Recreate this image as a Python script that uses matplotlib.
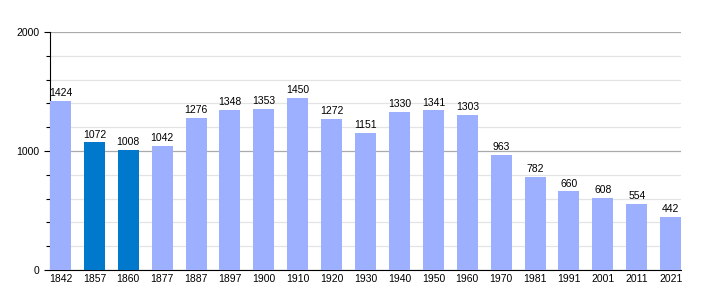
import numpy as np
import matplotlib.pyplot as plt
from matplotlib.ticker import MultipleLocator

annees = ['1842', '1857', '1860', '1877', '1887', '1897', '1900', '1910', '1920', '1930',
          '1940', '1950', '1960', '1970', '1981', '1991', '2001', '2011', '2021']
population = [1424, 1072, 1008, 1042, 1276, 1348, 1353, 1450, 1272, 1151,
              1330, 1341, 1303, 963, 782, 660, 608, 554, 442]
# annees mises en evidence (bleu fonce)
surlignees = ['1857', '1860']

plt.rcParams['font.family'] = ['Liberation Sans', 'DejaVu Sans']

fig = plt.figure(figsize=(7.1, 3.0), dpi=100)
ax = fig.add_axes([0.0704, 0.1, 0.889, 0.793])

x = np.arange(len(annees))
couleurs = ['#0079cc' if a in surlignees else '#9dafff' for a in annees]
ax.bar(x, population, width=0.62, color=couleurs, zorder=3)

for xi, v in zip(x, population):
    ax.text(xi, v + 25, str(v), ha='center', va='bottom', fontsize=7.5, zorder=4)

ax.set_xlim(-0.31, len(annees) - 1 + 0.31)
ax.set_ylim(0, 2000)
ax.set_xticks(x)
ax.set_xticklabels(annees, fontsize=7.5)
ax.yaxis.set_major_locator(MultipleLocator(1000))
ax.yaxis.set_minor_locator(MultipleLocator(200))
ax.tick_params(axis='y', which='major', labelsize=7.5, length=4, width=0.8)
ax.tick_params(axis='y', which='minor', length=3, width=0.8)
ax.tick_params(axis='x', length=0, pad=3)

ax.grid(axis='y', which='major', color='#aaaaaa', linewidth=0.9, zorder=1)
ax.grid(axis='y', which='minor', color='#e4e4e4', linewidth=0.9, zorder=1)

for s in ['top', 'right']:
    ax.spines[s].set_visible(False)
ax.spines['left'].set_linewidth(0.8)
ax.spines['bottom'].set_linewidth(0.8)

fig.savefig('out.png', dpi=100)
